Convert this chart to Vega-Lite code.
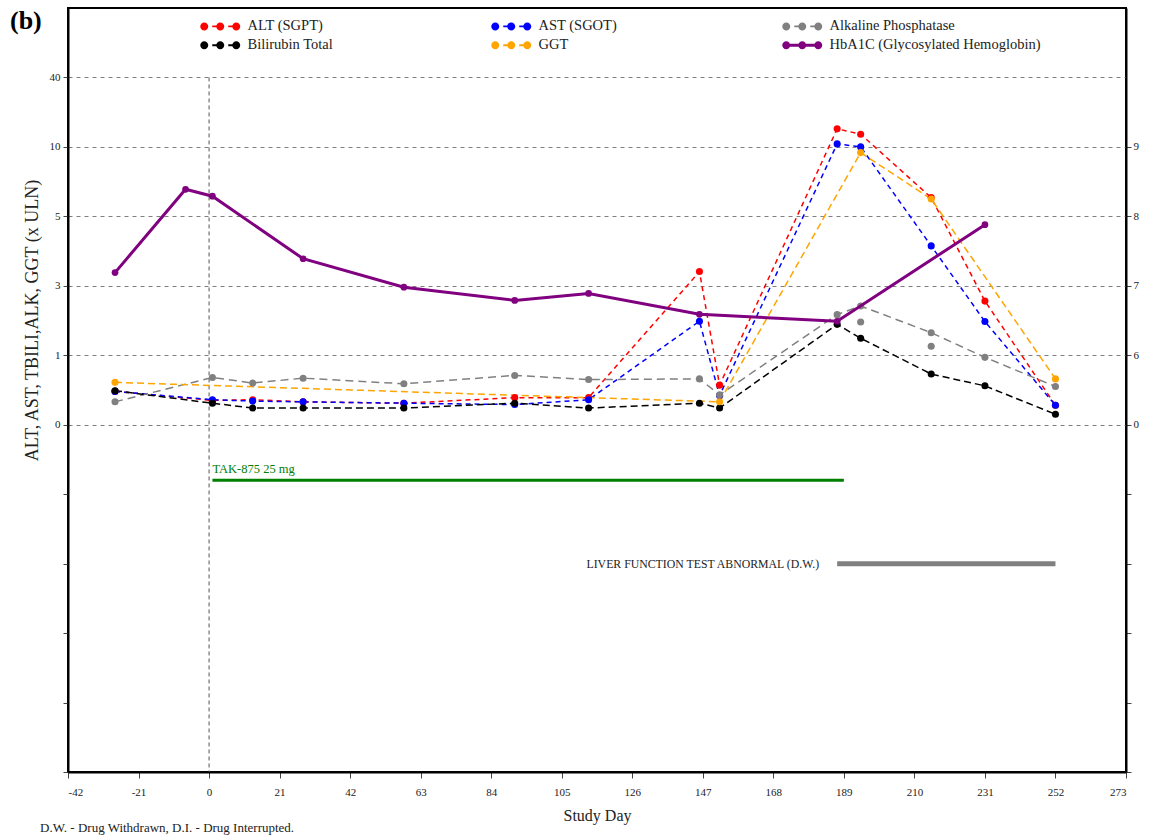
{
  "$schema": "https://vega.github.io/schema/vega-lite/v6.json",
  "width": 1058,
  "height": 764,
  "autosize": {"type": "none"},
  "padding": {"left": 68, "top": 8, "right": 27, "bottom": 64},
  "background": "white",
  "config": {
    "font": "Liberation Serif",
    "style": {"guide-label": {"font": "Liberation Serif"}, "guide-title": {"font": "Liberation Serif"}},
    "view": {"stroke": "black", "strokeWidth": 2},
    "axis": {
      "labelFont": "Liberation Serif",
      "titleFont": "Liberation Serif",
      "labelColor": "#222",
      "titleColor": "#222",
      "titleFontWeight": "normal",
      "domainColor": "black",
      "domainWidth": 2,
      "tickColor": "#444",
      "tickSize": 5,
      "labelFontSize": 11
    },
    "legend": {
      "orient": "none",
      "legendX": 129,
      "legendY": 11,
      "columns": 3,
      "direction": "horizontal",
      "gridAlign": "all",
      "labelFont": "Liberation Serif",
      "labelFontSize": 14.5,
      "labelColor": "#222",
      "labelLimit": 400,
      "symbolSize": 64,
      "symbolStrokeWidth": 0,
      "symbolOpacity": 1,
      "labelOffset": 36,
      "columnPadding": 29,
      "rowPadding": 4,
      "padding": 0
    }
  },
  "title": {
    "text": "(b)",
    "anchor": "start",
    "frame": "group",
    "font": "Liberation Serif",
    "fontSize": 26,
    "fontWeight": "bold",
    "color": "black",
    "dx": -58,
    "offset": -26
  },
  "datasets": {
    "labs": [
      {"test": "ALT (SGPT)", "day": -28, "value": 0.48, "main": true},
      {"test": "ALT (SGPT)", "day": 1, "value": 0.35, "main": true},
      {"test": "ALT (SGPT)", "day": 13, "value": 0.36, "main": true},
      {"test": "ALT (SGPT)", "day": 28, "value": 0.33, "main": true},
      {"test": "ALT (SGPT)", "day": 58, "value": 0.31, "main": true},
      {"test": "ALT (SGPT)", "day": 91, "value": 0.39, "main": true},
      {"test": "ALT (SGPT)", "day": 113, "value": 0.39, "main": true},
      {"test": "ALT (SGPT)", "day": 146, "value": 3.41, "main": true},
      {"test": "ALT (SGPT)", "day": 152, "value": 0.57, "main": true},
      {"test": "ALT (SGPT)", "day": 187, "value": 17.8, "main": true},
      {"test": "ALT (SGPT)", "day": 194, "value": 15.5, "main": true},
      {"test": "ALT (SGPT)", "day": 215, "value": 6.35, "main": true},
      {"test": "ALT (SGPT)", "day": 231, "value": 2.56, "main": true},
      {"test": "ALT (SGPT)", "day": 252, "value": 0.28, "main": true},
      {"test": "AST (SGOT)", "day": -28, "value": 0.48, "main": true},
      {"test": "AST (SGOT)", "day": 1, "value": 0.36, "main": true},
      {"test": "AST (SGOT)", "day": 13, "value": 0.34, "main": true},
      {"test": "AST (SGOT)", "day": 28, "value": 0.33, "main": true},
      {"test": "AST (SGOT)", "day": 58, "value": 0.31, "main": true},
      {"test": "AST (SGOT)", "day": 91, "value": 0.29, "main": true},
      {"test": "AST (SGOT)", "day": 113, "value": 0.36, "main": true},
      {"test": "AST (SGOT)", "day": 146, "value": 1.98, "main": true},
      {"test": "AST (SGOT)", "day": 152, "value": 0.42, "main": true},
      {"test": "AST (SGOT)", "day": 187, "value": 11.3, "main": true},
      {"test": "AST (SGOT)", "day": 194, "value": 10.0, "main": true},
      {"test": "AST (SGOT)", "day": 215, "value": 4.15, "main": true},
      {"test": "AST (SGOT)", "day": 231, "value": 1.97, "main": true},
      {"test": "AST (SGOT)", "day": 252, "value": 0.28, "main": true},
      {"test": "Alkaline Phosphatase", "day": -28, "value": 0.33, "main": true},
      {"test": "Alkaline Phosphatase", "day": 1, "value": 0.68, "main": true},
      {"test": "Alkaline Phosphatase", "day": 13, "value": 0.6, "main": true},
      {"test": "Alkaline Phosphatase", "day": 28, "value": 0.67, "main": true},
      {"test": "Alkaline Phosphatase", "day": 58, "value": 0.59, "main": true},
      {"test": "Alkaline Phosphatase", "day": 91, "value": 0.71, "main": true},
      {"test": "Alkaline Phosphatase", "day": 113, "value": 0.65, "main": true},
      {"test": "Alkaline Phosphatase", "day": 146, "value": 0.66, "main": true},
      {"test": "Alkaline Phosphatase", "day": 152, "value": 0.43, "main": true},
      {"test": "Alkaline Phosphatase", "day": 187, "value": 2.17, "main": true},
      {"test": "Alkaline Phosphatase", "day": 194, "value": 2.42, "main": true},
      {"test": "Alkaline Phosphatase", "day": 194, "value": 1.96, "main": false},
      {"test": "Alkaline Phosphatase", "day": 215, "value": 1.65, "main": true},
      {"test": "Alkaline Phosphatase", "day": 215, "value": 1.26, "main": false},
      {"test": "Alkaline Phosphatase", "day": 231, "value": 0.97, "main": true},
      {"test": "Alkaline Phosphatase", "day": 252, "value": 0.55, "main": true},
      {"test": "Bilirubin Total", "day": -28, "value": 0.49, "main": true},
      {"test": "Bilirubin Total", "day": 1, "value": 0.31, "main": true},
      {"test": "Bilirubin Total", "day": 13, "value": 0.24, "main": true},
      {"test": "Bilirubin Total", "day": 28, "value": 0.24, "main": true},
      {"test": "Bilirubin Total", "day": 58, "value": 0.24, "main": true},
      {"test": "Bilirubin Total", "day": 91, "value": 0.31, "main": true},
      {"test": "Bilirubin Total", "day": 113, "value": 0.24, "main": true},
      {"test": "Bilirubin Total", "day": 146, "value": 0.31, "main": true},
      {"test": "Bilirubin Total", "day": 152, "value": 0.24, "main": true},
      {"test": "Bilirubin Total", "day": 187, "value": 1.89, "main": true},
      {"test": "Bilirubin Total", "day": 194, "value": 1.49, "main": true},
      {"test": "Bilirubin Total", "day": 215, "value": 0.73, "main": true},
      {"test": "Bilirubin Total", "day": 231, "value": 0.56, "main": true},
      {"test": "Bilirubin Total", "day": 252, "value": 0.15, "main": true},
      {"test": "GGT", "day": -28, "value": 0.61, "main": true},
      {"test": "GGT", "day": 152, "value": 0.33, "main": true},
      {"test": "GGT", "day": 194, "value": 9.59, "main": true},
      {"test": "GGT", "day": 215, "value": 6.25, "main": true},
      {"test": "GGT", "day": 252, "value": 0.66, "main": true}
    ],
    "hba1c": [
      {"test": "HbA1C (Glycosylated Hemoglobin)", "day": -28, "hba1c": 7.19},
      {"test": "HbA1C (Glycosylated Hemoglobin)", "day": -7, "hba1c": 8.39},
      {"test": "HbA1C (Glycosylated Hemoglobin)", "day": 1, "hba1c": 8.29},
      {"test": "HbA1C (Glycosylated Hemoglobin)", "day": 28, "hba1c": 7.39},
      {"test": "HbA1C (Glycosylated Hemoglobin)", "day": 58, "hba1c": 6.98},
      {"test": "HbA1C (Glycosylated Hemoglobin)", "day": 91, "hba1c": 6.79},
      {"test": "HbA1C (Glycosylated Hemoglobin)", "day": 113, "hba1c": 6.89},
      {"test": "HbA1C (Glycosylated Hemoglobin)", "day": 146, "hba1c": 6.59},
      {"test": "HbA1C (Glycosylated Hemoglobin)", "day": 187, "hba1c": 6.49},
      {"test": "HbA1C (Glycosylated Hemoglobin)", "day": 231, "hba1c": 7.88}
    ],
    "series": [
      {"test": "ALT (SGPT)"},
      {"test": "AST (SGOT)"},
      {"test": "Alkaline Phosphatase"},
      {"test": "Bilirubin Total"},
      {"test": "GGT"},
      {"test": "HbA1C (Glycosylated Hemoglobin)"}
    ],
    "treatments": [
      {"label": "TAK-875 25 mg", "day": 1, "day2": 189, "value": -0.8}
    ],
    "events": [
      {"label": "LIVER FUNCTION TEST ABNORMAL (D.W.)", "day": 187, "day2": 252, "value": -2}
    ],
    "refline": [
      {"day": 0, "value": 40, "value2": -5}
    ],
    "notes": [
      {"label": "D.W. - Drug Withdrawn, D.I. - Drug Interrupted.", "day": -50.3, "value": -5.86}
    ]
  },
  "layer": [
    {
      "encoding": {
        "x": {
          "field": "day",
          "type": "quantitative",
          "scale": {"domain": [-42, 273], "nice": false, "zero": false},
          "axis": {
            "title": "Study Day",
            "values": [-42, -21, 0, 21, 42, 63, 84, 105, 126, 147, 168, 189, 210, 231, 252, 273],
            "labelExpr": "'' + datum.value",
            "grid": false,
            "titleFontSize": 16,
            "titlePadding": 10,
            "labelPadding": 8,
            "tickSize": 6
          }
        },
        "y": {
          "field": "value",
          "type": "quantitative",
          "scale": {
            "domain": [-5, 0, 1, 3, 5, 10, 40, 70],
            "range": [764, 416.73, 347.27, 277.82, 208.36, 138.91, 69.45, 0],
            "nice": false,
            "zero": false
          },
          "axis": {
            "title": "ALT, AST, TBILI,ALK, GGT (x ULN)",
            "values": [-5, -4, -3, -2, -1, 0, 1, 3, 5, 10, 40],
            "labelExpr": "datum.value < 0 ? '' : datum.label",
            "grid": true,
            "gridColor": "#808080",
            "gridDash": [4, 4],
            "gridWidth": 1,
            "gridOpacity": {"condition": {"test": "datum.value < 0", "value": 0}, "value": 1},
            "labelPadding": 3,
            "titleFontSize": 18,
            "titleX": -36,
            "titleY": 312,
            "titleBaseline": "middle"
          }
        }
      },
      "layer": [
        {
          "data": {"name": "refline"},
          "mark": {"type": "rule", "color": "#555", "strokeDash": [4, 3], "strokeWidth": 1},
          "encoding": {"y2": {"field": "value2"}}
        },
        {
          "data": {"name": "labs"},
          "transform": [{"filter": "datum.main"}],
          "mark": {"type": "line", "strokeWidth": 1.5},
          "encoding": {
            "stroke": {
              "field": "test",
              "type": "nominal",
              "scale": {
                "domain": ["ALT (SGPT)", "AST (SGOT)", "Alkaline Phosphatase", "Bilirubin Total", "GGT"],
                "range": ["#ff0000", "#0000ff", "#808080", "#000000", "#ffa500"]
              },
              "legend": null
            },
            "strokeDash": {
              "field": "test",
              "type": "nominal",
              "scale": {
                "domain": ["ALT (SGPT)", "AST (SGOT)", "Alkaline Phosphatase", "Bilirubin Total", "GGT"],
                "range": [[5, 4], [5, 4], [8, 5], [7, 4], [7, 4]]
              },
              "legend": null
            }
          }
        },
        {
          "data": {"name": "labs"},
          "mark": {"type": "point", "filled": true, "opacity": 1, "size": 50, "shape": "circle"},
          "encoding": {
            "fill": {
              "field": "test",
              "type": "nominal",
              "scale": {
                "domain": ["ALT (SGPT)", "AST (SGOT)", "Alkaline Phosphatase", "Bilirubin Total", "GGT"],
                "range": ["#ff0000", "#0000ff", "#808080", "#000000", "#ffa500"]
              },
              "legend": null
            }
          }
        },
        {
          "data": {"name": "treatments"},
          "layer": [
            {
              "mark": {"type": "rule", "color": "#008000", "strokeWidth": 3},
              "encoding": {"x2": {"field": "day2"}}
            },
            {
              "mark": {"type": "text", "align": "left", "baseline": "alphabetic", "dy": -7, "fontSize": 12.5, "color": "#008000", "font": "Liberation Serif"},
              "encoding": {"text": {"field": "label"}}
            }
          ]
        },
        {
          "data": {"name": "events"},
          "layer": [
            {
              "mark": {"type": "rule", "color": "#808080", "strokeWidth": 5},
              "encoding": {"x2": {"field": "day2"}}
            },
            {
              "mark": {"type": "text", "align": "right", "baseline": "middle", "dx": -18, "fontSize": 11.8, "color": "#222", "font": "Liberation Serif"},
              "encoding": {"text": {"field": "label"}}
            }
          ]
        },
        {
          "data": {"name": "notes"},
          "mark": {"type": "text", "align": "left", "baseline": "alphabetic", "fontSize": 13, "color": "#222", "font": "Liberation Serif"},
          "encoding": {"text": {"field": "label"}}
        }
      ]
    },
    {
      "data": {"name": "hba1c"},
      "encoding": {
        "x": {"field": "day", "type": "quantitative"},
        "y": {
          "field": "hba1c",
          "type": "quantitative",
          "scale": {
            "domain": [-5, 0, 6, 7, 8, 9, 10, 11],
            "range": [764, 416.73, 347.27, 277.82, 208.36, 138.91, 69.45, 0],
            "nice": false,
            "zero": false
          },
          "axis": {
            "orient": "right",
            "title": null,
            "values": [-5, -4, -3, -2, -1, 0, 6, 7, 8, 9],
            "labelExpr": "datum.value < 0 ? '' : datum.label",
            "grid": false,
            "labelPadding": 2
          }
        }
      },
      "layer": [
        {"mark": {"type": "line", "strokeWidth": 3, "color": "#800080"}},
        {"mark": {"type": "point", "filled": true, "opacity": 1, "size": 45, "shape": "circle", "color": "#800080"}},
        {
          "data": {"name": "series"},
          "transform": [{"filter": "false"}],
          "mark": {"type": "point", "filled": true, "opacity": 1},
          "encoding": {
            "x": {"datum": 0},
            "y": {"datum": 0},
            "color": {
              "field": "test",
              "type": "nominal",
              "title": null,
              "legend": {"labelFont": "Liberation Serif", "labelFontSize": 14.5, "labelLimit": 400},
              "scale": {
                "domain": ["ALT (SGPT)", "AST (SGOT)", "Alkaline Phosphatase", "Bilirubin Total", "GGT", "HbA1C (Glycosylated Hemoglobin)"],
                "range": ["#ff0000", "#0000ff", "#808080", "#000000", "#ffa500", "#800080"]
              }
            },
            "shape": {
              "field": "test",
              "type": "nominal",
              "title": null,
              "legend": {"labelFont": "Liberation Serif", "labelFontSize": 14.5, "labelLimit": 400},
              "scale": {
                "domain": ["ALT (SGPT)", "AST (SGOT)", "Alkaline Phosphatase", "Bilirubin Total", "GGT", "HbA1C (Glycosylated Hemoglobin)"],
                "range": [
                  "M 1 0 A 1 1 0 1 1 -1 0 A 1 1 0 1 1 1 0 Z M 5 0 A 1 1 0 1 1 3 0 A 1 1 0 1 1 5 0 Z M 9 0 A 1 1 0 1 1 7 0 A 1 1 0 1 1 9 0 Z M 2 -0.22 L 3.1 -0.22 L 3.1 0.22 L 2 0.22 Z M 6 -0.22 L 7.1 -0.22 L 7.1 0.22 L 6 0.22 Z",
                  "M 1 0 A 1 1 0 1 1 -1 0 A 1 1 0 1 1 1 0 Z M 5 0 A 1 1 0 1 1 3 0 A 1 1 0 1 1 5 0 Z M 9 0 A 1 1 0 1 1 7 0 A 1 1 0 1 1 9 0 Z M 2 -0.22 L 3.1 -0.22 L 3.1 0.22 L 2 0.22 Z M 6 -0.22 L 7.1 -0.22 L 7.1 0.22 L 6 0.22 Z",
                  "M 1 0 A 1 1 0 1 1 -1 0 A 1 1 0 1 1 1 0 Z M 5 0 A 1 1 0 1 1 3 0 A 1 1 0 1 1 5 0 Z M 9 0 A 1 1 0 1 1 7 0 A 1 1 0 1 1 9 0 Z M 2 -0.22 L 3.1 -0.22 L 3.1 0.22 L 2 0.22 Z M 6 -0.22 L 7.1 -0.22 L 7.1 0.22 L 6 0.22 Z",
                  "M 1 0 A 1 1 0 1 1 -1 0 A 1 1 0 1 1 1 0 Z M 5 0 A 1 1 0 1 1 3 0 A 1 1 0 1 1 5 0 Z M 9 0 A 1 1 0 1 1 7 0 A 1 1 0 1 1 9 0 Z M 2 -0.22 L 3.1 -0.22 L 3.1 0.22 L 2 0.22 Z M 6 -0.22 L 7.1 -0.22 L 7.1 0.22 L 6 0.22 Z",
                  "M 1 0 A 1 1 0 1 1 -1 0 A 1 1 0 1 1 1 0 Z M 5 0 A 1 1 0 1 1 3 0 A 1 1 0 1 1 5 0 Z M 9 0 A 1 1 0 1 1 7 0 A 1 1 0 1 1 9 0 Z M 2 -0.22 L 3.1 -0.22 L 3.1 0.22 L 2 0.22 Z M 6 -0.22 L 7.1 -0.22 L 7.1 0.22 L 6 0.22 Z",
                  "M 1 0 A 1 1 0 1 1 -1 0 A 1 1 0 1 1 1 0 Z M 5 0 A 1 1 0 1 1 3 0 A 1 1 0 1 1 5 0 Z M 9 0 A 1 1 0 1 1 7 0 A 1 1 0 1 1 9 0 Z M 0 -0.4 L 8 -0.4 L 8 0.4 L 0 0.4 Z"
                ]
              }
            }
          }
        }
      ]
    }
  ],
  "resolve": {"scale": {"y": "independent"}}
}
